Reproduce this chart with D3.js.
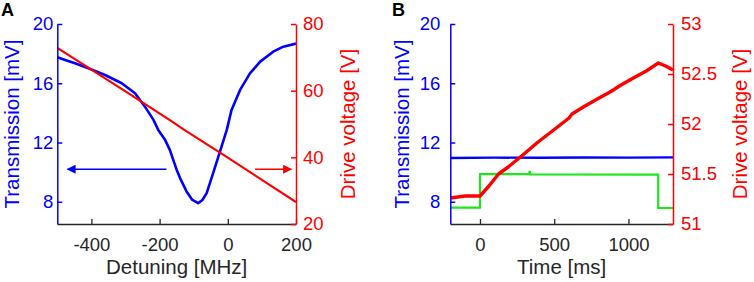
<!DOCTYPE html>
<html><head><meta charset="utf-8">
<script src="https://cdn.jsdelivr.net/npm/d3@7"></script>
<style>
body{margin:0;background:#fff;}
text{font-family:"Liberation Sans",Arial,sans-serif;}
</style></head>
<body><svg id="c" width="754" height="282"></svg>
<script>
// ---------- Panel A data ----------
const detuningA = [-500,-477,-448,-409,-360,-311,-272,-243,-218,-204,-184,-170,-160,-150,-140,-121,-105,-87,-75,-62,-43,-23,-3,11,36,65,95,133,163,200];
const transA    = [17.75,17.57,17.35,17.01,16.56,16.0,15.33,14.42,13.53,12.85,12.18,11.5,10.83,10.16,9.6,8.7,8.15,7.91,8.1,8.58,9.93,11.39,12.85,14.2,15.55,16.67,17.46,18.13,18.47,18.68];
const detuningVA = [-500,-300,-160,-130,0,200];
const voltA      = [72.8,59.8,50.5,48.4,39.9,26.6];
const arrowBlueA = {x0:-180, x1:-470, y:10.2};
const arrowRedA  = {x0:80, x1:186, y:10.2};

// ---------- Panel B data ----------
const timeTransB = [-200,100,400,700,1000,1300];
const transB     = [10.96,10.98,10.97,10.99,10.98,11.0];
const timeGreenB = [-200,0,0,330,335,340,1200,1200,1300];
const greenB     = [7.61,7.61,9.87,9.87,10.08,9.85,9.83,7.58,7.58];
const timeVoltB  = [-200,-100,0,60,125,190,256,320,391,470,548,600,620,696,790,876,950,1033,1120,1201,1250,1300];
const voltB      = [51.26,51.28,51.28,51.38,51.50,51.57,51.65,51.73,51.82,51.91,52.0,52.06,52.10,52.17,52.25,52.32,52.39,52.46,52.53,52.61,52.58,52.54];

const tickLeft  = [8,12,16,20];
const tickRightA = [20,40,60,80];
const tickBottomA = [-400,-200,0,200];
const tickRightB = [51,51.5,52,52.5,53];
const tickBottomB = [0,500,1000];

const BLUE="#0000ff", RED="#ff0000", GREEN="#1ee61e", DARK="#262626";
const TICKFS="18.5px", LABFS="20.5px";
const svg = d3.select("#c");
const defs = svg.append("defs");
function marker(id,color){
  defs.append("marker").attr("id",id).attr("viewBox","0 0 10 10").attr("refX",9).attr("refY",5)
    .attr("markerWidth",11).attr("markerHeight",9).attr("markerUnits","userSpaceOnUse").attr("orient","auto")
    .append("path").attr("d","M0,0L10,5L0,10Z").attr("fill",color);
}
marker("ab",BLUE); marker("ar",RED);

function panel(o){
  const g = svg.append("g");
  const x = d3.scaleLinear().domain(o.xd).range([o.x0,o.x1]);
  const yl = d3.scaleLinear().domain([6.5,20]).range([224,24]);
  const yr = d3.scaleLinear().domain(o.yrd).range([224,24]);
  const cid = "clip"+o.id;
  defs.append("clipPath").attr("id",cid).append("rect").attr("x",o.x0).attr("y",22).attr("width",o.x1-o.x0).attr("height",202);
  const plot = g.append("g").attr("clip-path",`url(#${cid})`);
  o.draw(plot,x,yl,yr);
  // bottom axis
  const ab = g.append("g").attr("transform","translate(0,224)")
    .call(d3.axisBottom(x).tickValues(o.xt).tickSizeInner(-5).tickSizeOuter(0).tickPadding(14).tickFormat(d3.format("")));
  ab.select(".domain").attr("stroke",DARK).attr("stroke-width",1.3);
  ab.selectAll(".tick line").attr("stroke",DARK).attr("stroke-width",1.3);
  ab.selectAll("text").attr("fill",DARK).style("font-size",TICKFS).attr("font-family","Liberation Sans, Arial");
  ab.selectAll("text").text(d=>d<0?"-"+Math.abs(d):d);
  // left axis
  const al = g.append("g").attr("transform",`translate(${o.x0},0)`)
    .call(d3.axisLeft(yl).tickValues(tickLeft).tickSizeInner(-5).tickSizeOuter(0).tickPadding(o.lpad));
  al.select(".domain").attr("stroke",BLUE).attr("stroke-width",1.5);
  al.selectAll(".tick line").attr("stroke",BLUE).attr("stroke-width",1.5);
  al.selectAll("text").attr("fill",BLUE).style("font-size",TICKFS).attr("font-family","Liberation Sans, Arial");
  // right axis
  const ar = g.append("g").attr("transform",`translate(${o.x1},0)`)
    .call(d3.axisRight(yr).tickValues(o.yrt).tickSizeInner(-5).tickSizeOuter(0).tickPadding(o.rpad).tickFormat(d3.format("")));
  ar.select(".domain").attr("stroke",RED).attr("stroke-width",1.5);
  ar.selectAll(".tick line").attr("stroke",RED).attr("stroke-width",1.5);
  ar.selectAll("text").attr("fill",RED).style("font-size",TICKFS).attr("font-family","Liberation Sans, Arial");
  // labels
  g.append("text").attr("x",(o.x0+o.x1)/2).attr("y",274).attr("text-anchor","middle").attr("fill",DARK)
    .style("font-size",LABFS).text(o.xlabel);
  g.append("text").attr("transform",`translate(${o.llx},124) rotate(-90)`).attr("text-anchor","middle")
    .attr("dy","0.35em").attr("fill",BLUE).style("font-size",LABFS).text("Transmission [mV]");
  g.append("text").attr("transform",`translate(${o.rlx},124) rotate(-90)`).attr("text-anchor","middle")
    .attr("dy","0.35em").attr("fill",RED).style("font-size",LABFS).text("Drive voltage [V]");
  g.append("text").attr("x",o.lettx).attr("y",16).attr("font-weight","bold").style("font-size","18px").attr("fill","#000").text(o.id);
  if(o.after) o.after(g,x,yl,yr);
}

const line = (x,y,xs,ys)=>d3.line().x((d,i)=>x(xs[i])).y((d,i)=>y(ys[i]))(xs);

panel({id:"A", xd:[-500,200], x0:57.3, x1:296, yrd:[20,80], yrt:tickRightA, xt:tickBottomA,
  xlabel:"Detuning [MHz]", llx:11.5, rlx:348, lettx:1, lpad:4, rpad:7,
  draw:(p,x,yl,yr)=>{
    p.append("path").attr("d",line(x,yl,detuningA,transA)).attr("fill","none").attr("stroke",BLUE).attr("stroke-width",2.6).attr("stroke-linejoin","round");
    p.append("path").attr("d",line(x,yr,detuningVA,voltA)).attr("fill","none").attr("stroke",RED).attr("stroke-width",2.2);
  },
  after:(g,x,yl,yr)=>{
    g.append("line").attr("x1",x(arrowBlueA.x0)).attr("x2",x(arrowBlueA.x1)).attr("y1",yl(arrowBlueA.y)).attr("y2",yl(arrowBlueA.y))
      .attr("stroke",BLUE).attr("stroke-width",1.5).attr("marker-end","url(#ab)");
    g.append("line").attr("x1",x(arrowRedA.x0)).attr("x2",x(arrowRedA.x1)).attr("y1",yl(arrowRedA.y)).attr("y2",yl(arrowRedA.y))
      .attr("stroke",RED).attr("stroke-width",1.5).attr("marker-end","url(#ar)");
  }
});

panel({id:"B", xd:[-200,1300], x0:450.3, x1:673, yrd:[51,53], yrt:tickRightB, xt:tickBottomB,
  xlabel:"Time [ms]", llx:402, rlx:740, lettx:392, lpad:10, rpad:8,
  draw:(p,x,yl,yr)=>{
    p.append("path").attr("d",line(x,yl,timeTransB,transB)).attr("fill","none").attr("stroke",BLUE).attr("stroke-width",2.4);
    p.append("path").attr("d",line(x,yl,timeGreenB,greenB)).attr("fill","none").attr("stroke",GREEN).attr("stroke-width",2.2);
    p.append("path").attr("d",line(x,yr,timeVoltB,voltB)).attr("fill","none").attr("stroke",RED).attr("stroke-width",3.4).attr("stroke-linejoin","round");
  }
});
</script></body></html>
